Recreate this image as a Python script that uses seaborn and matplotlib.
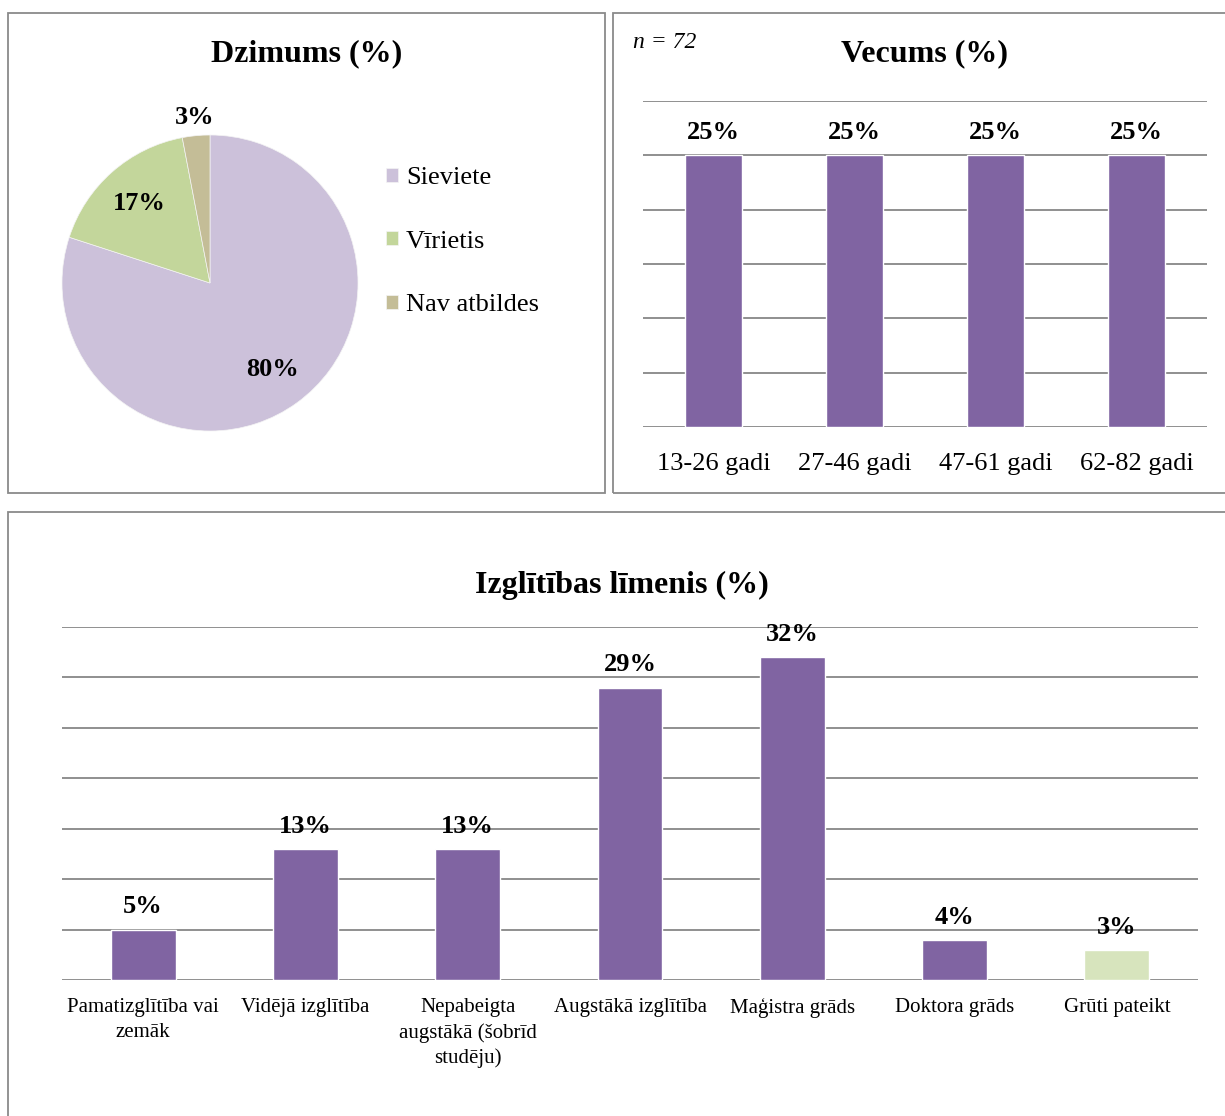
import numpy as np
import matplotlib
matplotlib.use("Agg")
import matplotlib.pyplot as plt
from matplotlib.patches import Rectangle
import seaborn as sns

# data
gender_labels = ["Sieviete", "Vīrietis", "Nav atbildes"]
gender_pct = [80, 17, 3]
gender_colors = ["#CCC1DA", "#C3D69B", "#C4BD97"]

age_groups = ["13-26 gadi", "27-46 gadi", "47-61 gadi", "62-82 gadi"]
age_pct = [25, 25, 25, 25]

edu_levels = ["Pamatizglītība vai\nzemāk", "Vidējā izglītība", "Nepabeigta\naugstākā (šobrīd\nstudēju)",
              "Augstākā izglītība", "Maģistra grāds", "Doktora grāds", "Grūti pateikt"]
edu_pct = [5, 13, 13, 29, 32, 4, 3]
edu_colors = ["#8064A2"] * 6 + ["#D7E4BD"]

n_resp = 72

sns.set_style("white")
plt.rcParams["font.family"] = ["Liberation Serif", "DejaVu Serif"]
plt.rcParams["text.color"] = "black"
plt.rcParams["xtick.color"] = "black"

W, H = 1225, 1116
fig = plt.figure(figsize=(W / 100, H / 100), dpi=100)


def px_axes(x0, y0, x1, y1):
    return fig.add_axes([x0 / W, 1 - y1 / H, (x1 - x0) / W, (y1 - y0) / H])


# panel frames
for (x0, y0, x1, y1) in [(8, 13, 605, 493), (613, 13, 1235, 493), (8, 512, 1235, 1125)]:
    fig.patches.append(Rectangle((x0 / W, 1 - y1 / H), (x1 - x0) / W, (y1 - y0) / H,
                                 transform=fig.transFigure, fill=False, ec="#8a8a8a", lw=1.3))

grid_kw = dict(color="#878787", lw=1.3)
purple = "#8064A2"

# --- Dzimums pie ---
ax = px_axes(62, 135, 358, 431)
wedges, texts, autotexts = ax.pie(gender_pct, colors=gender_colors, startangle=90, counterclock=False,
                                  autopct="%d%%", pctdistance=0.72, radius=1,
                                  wedgeprops=dict(lw=0.5, ec="#f4f4f4"),
                                  textprops=dict(fontsize=19, fontweight="bold"))
# smallest slice label sits outside the pie
w = wedges[2]
ang = np.deg2rad((w.theta1 + w.theta2) / 2)
autotexts[2].set_position((1.12 * np.cos(ang), 1.12 * np.sin(ang)))
ax.set_xlim(-1, 1); ax.set_ylim(-1, 1)
ax.set_aspect("equal")
ax.legend(wedges, gender_labels, loc="upper left", bbox_to_anchor=(386 / W, 1 - 167 / H),
          bbox_transform=fig.transFigure, frameon=False, fontsize=19, handlelength=0.45,
          handleheight=0.45, handletextpad=0.3, labelspacing=1.58, borderpad=0, borderaxespad=0)
fig.text(307 / W, 1 - 54 / H, "Dzimums (%)", ha="center", va="center", fontsize=23, fontweight="bold")

# --- Vecums bars ---
ax = px_axes(643, 101, 1207, 427)
sns.barplot(x=age_groups, y=age_pct, color=purple, saturation=1, width=0.4, ax=ax)
ax.set_ylim(0, 30)
ax.set_yticks(range(0, 31, 5))
ax.set_yticklabels([])
ax.yaxis.grid(True, **grid_kw)
ax.set_axisbelow(True)
sns.despine(ax=ax, left=True, bottom=True)
ax.tick_params(axis="both", length=0)
ax.tick_params(axis="x", labelsize=19, pad=19)
ax.set_xlabel(""); ax.set_ylabel("")
for c in ax.containers:
    ax.bar_label(c, labels=[f"{v}%" for v in age_pct], padding=8, fontsize=19, fontweight="bold")
fig.text(925 / W, 1 - 54 / H, "Vecums (%)", ha="center", va="center", fontsize=23, fontweight="bold")
fig.text(633 / W, 1 - 42 / H, f"n = {n_resp}", ha="left", va="center", fontsize=17,
         fontstyle="italic")

# --- Izglītības līmenis bars ---
ax = px_axes(62, 627, 1198, 980)
sns.barplot(x=edu_levels, y=edu_pct, hue=edu_levels, palette=edu_colors, legend=False,
            saturation=1, width=0.4, ax=ax)
ax.set_ylim(0, 35)
ax.set_yticks(range(0, 36, 5))
ax.set_yticklabels([])
ax.yaxis.grid(True, **grid_kw)
ax.set_axisbelow(True)
sns.despine(ax=ax, left=True, bottom=True)
ax.tick_params(axis="both", length=0)
ax.tick_params(axis="x", labelsize=15, pad=13)
for t in ax.get_xticklabels():
    t.set_linespacing(1.4)
ax.set_xlabel(""); ax.set_ylabel("")
for c, v in zip(ax.containers, edu_pct):
    ax.bar_label(c, labels=[f"{v}%"], padding=8, fontsize=19, fontweight="bold")
fig.text(622 / W, 1 - 585 / H, "Izglītības līmenis (%)", ha="center", va="center",
         fontsize=23, fontweight="bold")

fig.savefig("out.png", dpi=100)
